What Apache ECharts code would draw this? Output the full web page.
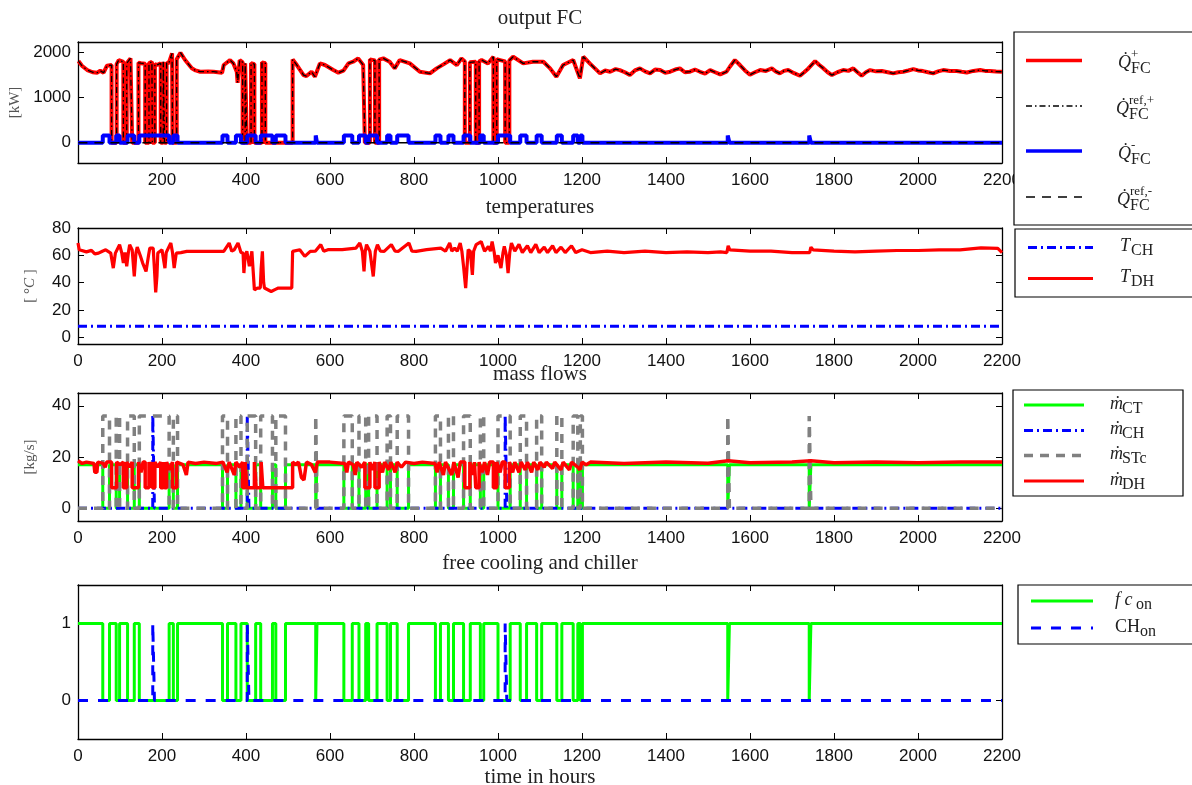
<!DOCTYPE html>
<html><head><meta charset="utf-8">
<script src="https://cdn.jsdelivr.net/npm/echarts@6/dist/echarts.min.js"></script>
<style>html,body{margin:0;padding:0;background:#fff}#c{width:1192px;height:785px}</style>
</head><body><div id="c"></div>
<script>
// ---------------- data ----------------
const HOURS_MAX = 2200;
const X_TICK_STEP = 200;

// free-cooling OFF intervals [start, end] in hours
const FC_OFF = [[59,75],[91,99],[118,134],[146,217],[227,237],[344,356],[376,388],[403,423],[435,463],[471,494],
  [566,569],[633,653],[669,685],[692,712],[736,744],[760,787],[851,863],[882,894],[918,934],[958,966],
  [1000,1029],[1053,1068],[1092,1104],[1140,1152],[1179,1190],[1196,1201],[1547,1551],[1741,1745]];
// chiller ON intervals
const CH_ON = [[178,182],[403,407],[1017,1021]];

// levels
const LEVEL_FC_ON = 1;
const LEVEL_QMINUS = 160;   // kW
const LEVEL_MCT = 17;       // kg/s
const LEVEL_MSTC = 36;      // kg/s
const LEVEL_MCH = 36.5;     // kg/s
const LEVEL_TCH = 8;        // °C

// heat output of FC [kW]
const Q_PLUS = [[1,1808],[10,1700],[22,1609],[35,1560],[46,1550],[53,1594],[61,1550],[69,1705],[80,1720],[80,0],[92,0],[92,1740],
 [97,1830],[108,1790],[108,0],[116,0],[116,1760],[125,1867],[129,1830],[129,0],[144,0],[144,1770],[150,1760],[160,1750],[160,0],
 [169,0],[169,1760],[176,1793],[177,1790],[177,0],[183,0],[183,1740],[188,1720],[197,1760],[197,0],[203,0],[203,1793],[206,1790],
 [206,0],[211,0],[211,1770],[216,1756],[224,1978],[225,1950],[225,0],[235,0],[235,1850],[244,1993],[255,1830],[271,1646],[280,1600],
 [291,1572],[310,1575],[323,1572],[343,1550],[347,1720],[362,1830],[370,1756],[378,1572],[380,1328],[385,1830],[392,1780],[392,0],
 [398,0],[398,1760],[402,1750],[402,0],[412,0],[412,1760],[420,1740],[420,0],[438,0],[438,1780],[446,1760],[446,0],[511,0],
 [511,1845],[521,1720],[537,1498],[544,1476],[556,1572],[564,1461],[576,1756],[588,1720],[608,1609],[620,1550],[632,1594],
 [644,1756],[655,1793],[667,1867],[679,1720],[683,1750],[683,0],[695,0],[695,1845],[707,1820],[707,0],[717,0],[717,1840],
 [727,1867],[742,1793],[754,1646],[766,1830],[790,1756],[814,1572],[838,1535],[854,1646],[870,1734],[886,1830],[902,1720],
 [913,1867],[921,1800],[921,0],[933,0],[933,1780],[937,1756],[947,1790],[947,0],[955,0],[955,1800],[961,1830],[976,1756],
 [989,1904],[989,0],[997,0],[997,1850],[1005,1830],[1017,1800],[1017,0],[1027,0],[1027,1820],[1036,1904],[1060,1756],
 [1083,1793],[1108,1793],[1124,1646],[1139,1461],[1155,1720],[1179,1830],[1195,1424],[1203,1904],[1219,1750],[1243,1535],
 [1255,1600],[1267,1572],[1280,1630],[1290,1608],[1302,1560],[1314,1498],[1326,1600],[1338,1646],[1350,1580],[1362,1535],
 [1374,1620],[1386,1608],[1398,1550],[1410,1572],[1422,1620],[1433,1646],[1445,1560],[1457,1572],[1469,1620],[1481,1571],
 [1493,1530],[1505,1608],[1517,1560],[1529,1512],[1544,1571],[1552,1682],[1564,1830],[1576,1720],[1588,1600],[1600,1505],
 [1612,1560],[1624,1608],[1638,1590],[1652,1645],[1661,1580],[1671,1535],[1681,1590],[1691,1608],[1705,1540],[1719,1483],
 [1729,1560],[1739,1645],[1755,1807],[1765,1720],[1775,1645],[1785,1560],[1795,1497],[1808,1560],[1822,1608],[1834,1590],
 [1846,1645],[1856,1560],[1866,1483],[1876,1560],[1886,1608],[1900,1580],[1914,1586],[1928,1560],[1941,1535],[1953,1560],
 [1965,1571],[1977,1600],[1989,1630],[2000,1600],[2012,1586],[2024,1560],[2036,1535],[2048,1580],[2060,1608],[2076,1590],
 [2092,1586],[2104,1570],[2116,1556],[2132,1590],[2148,1608],[2160,1590],[2171,1586],[2186,1575],[2200,1571]];
const Q_MINUS_REF = [[1,0],[2200,0]];

// district heating temperature [°C]
const T_DH = [[0,69],[3,64],[7,64.6],[20,62.5],[32,63.6],[40,61],[49,61.6],[58,63],[66,64],[78,61.6],[84,50.6],[89,61.6],
 [99,67.8],[104,62],[108,54.3],[112,62],[116,51.9],[120,62],[123,67.8],[129,64],[134,44.5],[138,62],[141,66],[148,60],
 [154,54.3],[162,48.2],[168,60],[171,65.3],[179,65.3],[182,50],[185,32.8],[188,45],[190,61.6],[200,64],[207,50.6],[210,62],
 [213,64],[221,69],[225,62],[229,50.6],[234,61.6],[245,62],[259,62.9],[292,62.9],[326,62.9],[347,62.9],[360,69],[366,63],
 [372,64],[381,69],[388,62],[393,61.6],[395,47],[398,60],[402,62.9],[408,51.9],[414,62.9],[420,34.7],[427,36],[434,36],
 [436,50],[439,62.9],[442,40],[444,36],[460,33.5],[470,35],[477,36],[509,36],[511,62.9],[528,64.1],[540,59.2],[553,62.9],
 [565,63],[578,67.8],[585,63],[595,64.1],[629,64.1],[662,65.3],[671,69],[677,63],[681,48.2],[684,63],[687,67.8],[695,63],
 [703,44.5],[708,63],[713,67.8],[720,63],[729,62.9],[746,67.8],[755,63],[763,62.9],[788,69],[795,63],[805,62.9],[830,64.1],
 [864,65.3],[875,63],[885,69],[890,63],[897,65.3],[903,63],[910,69],[914,63],[918,51.9],[923,36],[926,50],[929,64.1],[934,63],
 [939,45.7],[942,63],[948,67.8],[960,70],[968,63],[977,66.5],[982,63],[986,70],[991,62],[994,54.3],[1000,60],[1007,50.6],
 [1012,62],[1015,66.5],[1020,60],[1024,47],[1028,62],[1032,69],[1040,63],[1050,68],[1058,62],[1070,67],[1078,62],[1090,68],
 [1098,62],[1110,66],[1118,62],[1130,67],[1138,62],[1150,66],[1160,62],[1175,67],[1185,62],[1200,64],[1220,62],[1260,63],
 [1300,62],[1350,63],[1400,62],[1450,62.5],[1500,62],[1530,62.5],[1545,62],[1548,67],[1552,64],[1600,63],[1650,63],[1700,62],
 [1742,62],[1745,66],[1750,64],[1800,63],[1850,62.5],[1900,63],[1950,63.5],[2000,63.5],[2050,64],[2100,64],[2150,65.5],
 [2190,65],[2200,62]];

// district heating mass flow [kg/s]
const M_DH = [[0,18.5],[10,17.5],[20,18],[38,17.5],[40,14],[45,14],[47,18],[60,17.5],[65,16],[68,18],[80,18],[80,8],[92,8],
 [92,18],[100,17],[108,18],[108,8],[116,8],[116,18],[122,16],[129,18],[129,8],[144,8],[144,18],[150,14],[155,18],[160,18],
 [160,8],[169,8],[169,18],[173,15],[177,18],[177,8],[183,8],[183,18],[190,16],[197,18],[197,8],[203,8],[203,18],[206,18],
 [206,8],[211,8],[211,18],[218,15],[225,18],[225,8],[235,8],[235,18],[250,17],[258,13],[262,18],[280,17.5],[300,18],[330,17.5],
 [345,18],[355,14],[360,18],[372,13],[376,18],[385,16],[392,18],[392,8],[398,8],[398,18],[402,18],[402,8],[420,8],[420,18],
 [424,18],[424,8],[436,8],[436,18],[440,18],[440,8],[511,8],[511,18],[518,17],[525,18],[532,12],[538,11],[544,18],[556,17],
 [565,14],[570,18],[600,18],[635,17.5],[640,14],[644,18],[655,17],[660,13],[664,18],[675,16],[683,18],[683,8],[695,8],[695,18],
 [700,15],[707,18],[707,8],[717,8],[717,18],[725,14],[730,18],[740,15],[745,18],[755,14],[760,18],[770,16],[780,18],[800,17.5],
 [820,18],[850,17.5],[855,14],[860,18],[870,13],[875,18],[890,13],[895,18],[905,12],[910,18],[921,18],[921,8],[933,8],[933,18],
 [940,13],[944,18],[947,18],[947,8],[955,8],[955,18],[962,14],[968,18],[975,13],[980,18],[989,18],[989,8],[997,8],[997,18],
 [1005,14],[1010,18],[1017,18],[1017,8],[1027,8],[1027,18],[1035,14],[1040,18],[1050,14],[1055,18],[1065,15],[1070,18],
 [1080,14],[1085,18],[1095,15],[1100,18],[1110,16],[1115,18],[1130,15.5],[1135,18],[1150,15],[1155,18],[1170,15],[1175,18],
 [1190,16],[1195,15],[1200,18],[1210,17],[1220,18],[1300,17.5],[1400,18],[1500,17.6],[1548,18.5],[1600,17.8],[1700,18],
 [1745,18.5],[1800,17.8],[1900,18],[2000,17.8],[2100,18],[2200,18]];

const Y_TICKS = [[0,1000,2000],[0,20,40,60,80],[0,20,40],[0,1]];
const Y_RANGE = [[-450,2230],[-5,80],[-5,45],[-0.5,1.5]];

// ---------------- build step tables from read intervals ----------------
function steps(intervals, base, level) {
  const pts = [[0, base]];
  for (const [a, b] of intervals) pts.push([a, base], [a, level], [b, level], [b, base]);
  pts.push([HOURS_MAX, base]);
  return pts;
}
const FC_ONS = steps(FC_OFF, LEVEL_FC_ON, 0);
const CH_ONS = steps(CH_ON, 0, 1);
const Q_MINUS = steps(FC_OFF, 0, LEVEL_QMINUS);
const M_CT = steps(FC_OFF, LEVEL_MCT, 0);
const M_STC = steps(FC_OFF, 0, LEVEL_MSTC);
const M_CH = steps(CH_ON, 0, LEVEL_MCH);
const T_CH = [[0, LEVEL_TCH], [HOURS_MAX, LEVEL_TCH]];

// ---------------- layout ----------------
const GRIDS = [
  {left:78, top:42, width:924, height:121},
  {left:78, top:228, width:924, height:116},
  {left:78, top:393, width:924, height:128},
  {left:78, top:585, width:924, height:154}
];
const SANS = 'Liberation Sans', SERIF = 'Liberation Serif';
const RED = '#ff0000', BLUE = '#0000ff', GREEN = '#00ff00', GRAY = '#808080', BLACK = '#000';
const lineAx = {show:true, onZero:false, lineStyle:{color:'#000', width:1.3}};
const tickAx = {show:true, inside:true, length:6, lineStyle:{color:'#000', width:1}};

const xAxis = [], yAxis = [];
GRIDS.forEach((g, i) => {
  xAxis.push({gridIndex:i, type:'value', min:0, max:HOURS_MAX, interval:X_TICK_STEP, position:'bottom',
    axisLine:lineAx, axisTick:tickAx, splitLine:{show:false},
    axisLabel:{fontFamily:SANS, fontSize:17, color:'#111', margin:9, hideOverlap:false,
      formatter: v => (i === 0 && v === 0) ? '' : String(v)},
    name: i === 3 ? 'time in hours' : '', nameLocation:'middle', nameGap:28,
    nameTextStyle:{fontFamily:SERIF, fontSize:21, color:'#222'}});
  xAxis.push({gridIndex:i, type:'value', min:0, max:HOURS_MAX, interval:X_TICK_STEP, position:'top',
    axisLine:lineAx, axisTick:tickAx, splitLine:{show:false}, axisLabel:{show:false}});
  const names = ['[kW]', '[ °{i|C} ]', '[kg/s]', ''];
  const gaps = [54, 40, 40, 0];
  yAxis.push({gridIndex:i, type:'value', min:Y_RANGE[i][0], max:Y_RANGE[i][1], position:'left',
    axisLine:lineAx, axisTick:Object.assign({customValues:Y_TICKS[i]}, tickAx), splitLine:{show:false},
    axisLabel:{customValues:Y_TICKS[i], fontFamily:SANS, fontSize:17, color:'#111', margin:7,
      formatter: v => String(v)},
    name:names[i], nameLocation:'middle', nameGap:gaps[i], nameRotate:90,
    nameTextStyle:{fontFamily:SERIF, fontSize:15, color:'#555', rich:{i:{fontFamily:SERIF, fontStyle:'italic', fontSize:15, color:'#555'}}}});
  yAxis.push({gridIndex:i, type:'value', min:Y_RANGE[i][0], max:Y_RANGE[i][1], position:'right',
    axisLine:lineAx, axisTick:Object.assign({customValues:Y_TICKS[i]}, tickAx), splitLine:{show:false},
    axisLabel:{show:false}});
});

function ser(name, grid, data, color, width, type, z) {
  return {name, type:'line', xAxisIndex:grid*2, yAxisIndex:grid*2, data, showSymbol:false, symbol:'none',
    animation:false, z:z, lineStyle:{color, width, type:type || 'solid'}, emphasis:{disabled:true}};
}
const series = [
  ser('Q+', 0, Q_PLUS, RED, 4, 'solid', 2),
  ser('Qref+', 0, Q_PLUS, BLACK, 1.3, [6,3,1.5,3], 3),
  ser('Q-', 0, Q_MINUS, BLUE, 4, 'solid', 4),
  ser('Qref-', 0, Q_MINUS_REF, BLACK, 1.5, [9,7], 5),
  ser('TCH', 1, T_CH, BLUE, 3, [9,4,2,4], 2),
  ser('TDH', 1, T_DH, RED, 3.2, 'solid', 3),
  ser('mCT', 2, M_CT, GREEN, 3, 'solid', 2),
  ser('mCH', 2, M_CH, BLUE, 3, [9,4,2,4], 3),
  ser('mSTc', 2, M_STC, GRAY, 3.5, [9,7], 4),
  ser('mDH', 2, M_DH, RED, 3.5, 'solid', 5),
  ser('fc', 3, FC_ONS, GREEN, 3, 'solid', 2),
  ser('CH', 3, CH_ONS, BLUE, 3, [10,10], 3)
];

// ---------------- legends and titles (graphics) ----------------
const G = [];
function txt(x, y, text, size, italic, align) {
  G.push({type:'text', x, y, z:100, style:{text, fill:'#222', align:align || 'left', verticalAlign:'middle',
    font:(italic ? 'italic ' : '') + size + 'px "' + SERIF + '"'}});
}
function box(x, y, w, h) {
  G.push({type:'rect', z:90, shape:{x, y, width:w, height:h}, style:{fill:'#fff', stroke:'#000', lineWidth:1.2}});
}
function sample(x1, x2, y, color, width, dash) {
  G.push({type:'line', z:95, shape:{x1, y1:y, x2, y2:y}, style:{stroke:color, lineWidth:width, lineDash:dash || null}});
}
function qLabel(x, y, sup) {
  txt(x, y, 'Q\u0307', 18, true);
  txt(x + 13, y - 8, sup, 13, false);
  txt(x + 13, y + 6, 'FC', 16, false);
}
function subLabel(x, y, main, sub, italic, dx) {
  txt(x, y, main, 18, italic);
  txt(x + dx, y + 5, sub, 16, false);
}
// titles
txt(540, 18, 'output FC', 21, false, 'center');
txt(540, 207, 'temperatures', 21, false, 'center');
txt(540, 374, 'mass flows', 21, false, 'center');
txt(540, 563, 'free cooling and chiller', 21, false, 'center');

// legend 1
box(1014, 32, 200, 193);
sample(1026, 1082, 60.5, RED, 3.5);
sample(1026, 1082, 106, BLACK, 1.3, [6,3,1.5,3]);
sample(1026, 1082, 151, BLUE, 3.5);
sample(1026, 1082, 197, BLACK, 1.5, [9,7]);
qLabel(1118, 63, '+');
qLabel(1116, 109, 'ref,+');
qLabel(1118, 154, '-');
qLabel(1117, 200, 'ref,-');
// legend 2
box(1015, 229, 200, 68);
sample(1028, 1093, 247.5, BLUE, 3, [9,4,2,4]);
sample(1028, 1093, 278.5, RED, 3);
subLabel(1120, 246, 'T', 'CH', true, 11);
subLabel(1120, 277, 'T', 'DH', true, 11);
// legend 3
box(1013, 390, 170, 106);
sample(1024, 1084, 405, GREEN, 3);
sample(1024, 1084, 430.5, BLUE, 3, [9,4,2,4]);
sample(1024, 1084, 455.5, GRAY, 3.5, [9,7]);
sample(1024, 1084, 481, RED, 3);
subLabel(1110, 404, 'ṁ', 'CT', true, 12);
subLabel(1110, 429, 'ṁ', 'CH', true, 12);
subLabel(1110, 454, 'ṁ', 'STc', true, 12);
subLabel(1110, 480, 'ṁ', 'DH', true, 12);
// legend 4
box(1018, 585, 200, 59);
sample(1031, 1093, 601, GREEN, 3);
sample(1031, 1093, 628, BLUE, 3, [10,10]);
subLabel(1115, 600, 'f c', 'on', true, 21);
subLabel(1115, 627, 'CH', 'on', false, 25);

const chart = echarts.init(document.getElementById('c'), null, {renderer:'canvas'});
chart.setOption({
  animation:false,
  backgroundColor:'#fff',
  grid:GRIDS.map(g => Object.assign({containLabel:false, outerBoundsMode:'none'}, g)),
  xAxis, yAxis, series, graphic:G
});
</script></body></html>
